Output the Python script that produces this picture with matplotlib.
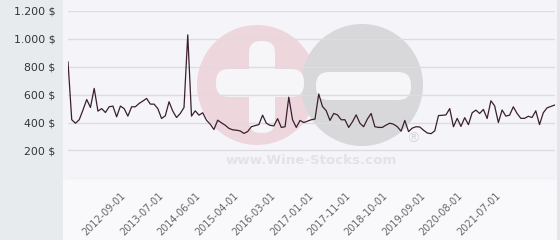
import matplotlib
matplotlib.use("Agg")
import matplotlib.pyplot as plt
from matplotlib.patches import Circle, FancyBboxPatch, Rectangle
import numpy as np

# ---- data ----
prices = [
    835, 420, 395, 420, 490, 565, 508, 645, 482, 500,
    472, 513, 518, 441, 518, 500, 446, 513, 513, 537,
    554, 573, 532, 532, 500, 429, 448, 549, 482, 436,
    465, 508, 1029, 446, 484, 453, 470, 417, 388, 350,
    417, 398, 381, 358, 348, 345, 340, 322, 335, 370,
    378, 385, 453, 395, 380, 376, 428, 365, 370, 582,
    420, 365, 415, 400, 410, 420, 425, 605, 515, 485,
    415, 465, 455, 420, 420, 365, 405, 455, 395, 370,
    425, 465, 370, 365, 365, 382, 395, 388, 370, 338,
    415, 335, 360, 370, 368, 345, 325, 320, 340, 450,
    452, 455, 500, 370, 430, 372, 435, 385, 470, 489,
    465, 494, 429, 556, 520, 400, 490, 446, 453, 513,
    465, 430, 430, 445, 436, 484, 385, 470, 505, 515,
    525,
]
tick_labels = ["2012-09-01", "2013-07-01", "2014-06-01", "2015-04-01",
               "2016-03-01", "2017-01-01", "2017-11-01", "2018-10-01",
               "2019-09-01", "2020-08-01", "2021-07-01"]
y_ticks = [200, 400, 600, 800, 1000, 1200]
y_tick_labels = ["200 $", "400 $", "600 $", "800 $", "1.000 $", "1.200 $"]

first_tick = 16
tick_step = 10

W, H = 560, 240
fig = plt.figure(figsize=(W / 100, H / 100), dpi=100)
fig.patch.set_facecolor("#f9f9fb")

# background / watermark layer in pixel coordinates
bg = fig.add_axes([0, 0, 1, 1], zorder=0)
bg.set_xlim(0, W)
bg.set_ylim(H, 0)
bg.axis("off")
bg.add_patch(Rectangle((0, 0), 63, H, facecolor="#e8ebee", edgecolor="none"))
bg.add_patch(Rectangle((63, 0), W - 63, 180, facecolor="#f5f5f9", edgecolor="none"))
bg.add_patch(Rectangle((557, 0), 3, H, facecolor="#e6e6ea", edgecolor="none"))

bg.add_patch(Circle((257, 85), 60, facecolor="#eed7dc", edgecolor="none"))
bg.add_patch(Circle((362, 85), 61, facecolor="#d8d8da", edgecolor="none"))
# plus sign
bg.add_patch(FancyBboxPatch((249, 41), 26, 92, boxstyle="round,pad=0,rounding_size=12",
                            facecolor="#f6f6f9", edgecolor="none"))
bg.add_patch(FancyBboxPatch((216, 69), 88, 28, boxstyle="round,pad=0,rounding_size=13",
                            facecolor="#f6f6f9", edgecolor="none"))
# minus sign
bg.add_patch(FancyBboxPatch((316, 72), 95, 28, boxstyle="round,pad=0,rounding_size=13",
                            facecolor="#f6f6f9", edgecolor="none"))
bg.text(311, 160, "www.Wine-Stocks.com", ha="center", va="center",
        fontsize=9.6, fontweight="bold", color="#e3e3e5")
bg.text(413, 139, "®", ha="center", va="center", fontsize=10, color="#d8d8da")

# main chart
ax = fig.add_axes([68 / W, (H - 178.3) / H, (554.5 - 68) / W, 167.3 / H], zorder=1)
ax.set_facecolor("none")
x = np.arange(len(prices))
ax.plot(x, prices, color="#3b1f2d", linewidth=0.9, zorder=3)

ax.set_xlim(0, len(prices) - 1)
ax.set_ylim(0, 1200)
ax.set_yticks([0] + y_ticks)
ax.set_yticklabels([""] + y_tick_labels)
ax.grid(axis="y", color="#dcdce2", linewidth=1)
ax.set_axisbelow(True)

tick_pos = [first_tick + tick_step * k for k in range(len(tick_labels))]
ax.set_xticks(tick_pos)
ax.set_xticklabels(tick_labels, rotation=45, ha="right", va="top")

for s in ax.spines.values():
    s.set_visible(False)
ax.tick_params(axis="y", length=0, pad=9, labelsize=7.8, labelcolor="#333333")
ax.tick_params(axis="x", length=0, pad=9, labelsize=7, labelcolor="#666666")

fig.savefig("out.png", dpi=100)
